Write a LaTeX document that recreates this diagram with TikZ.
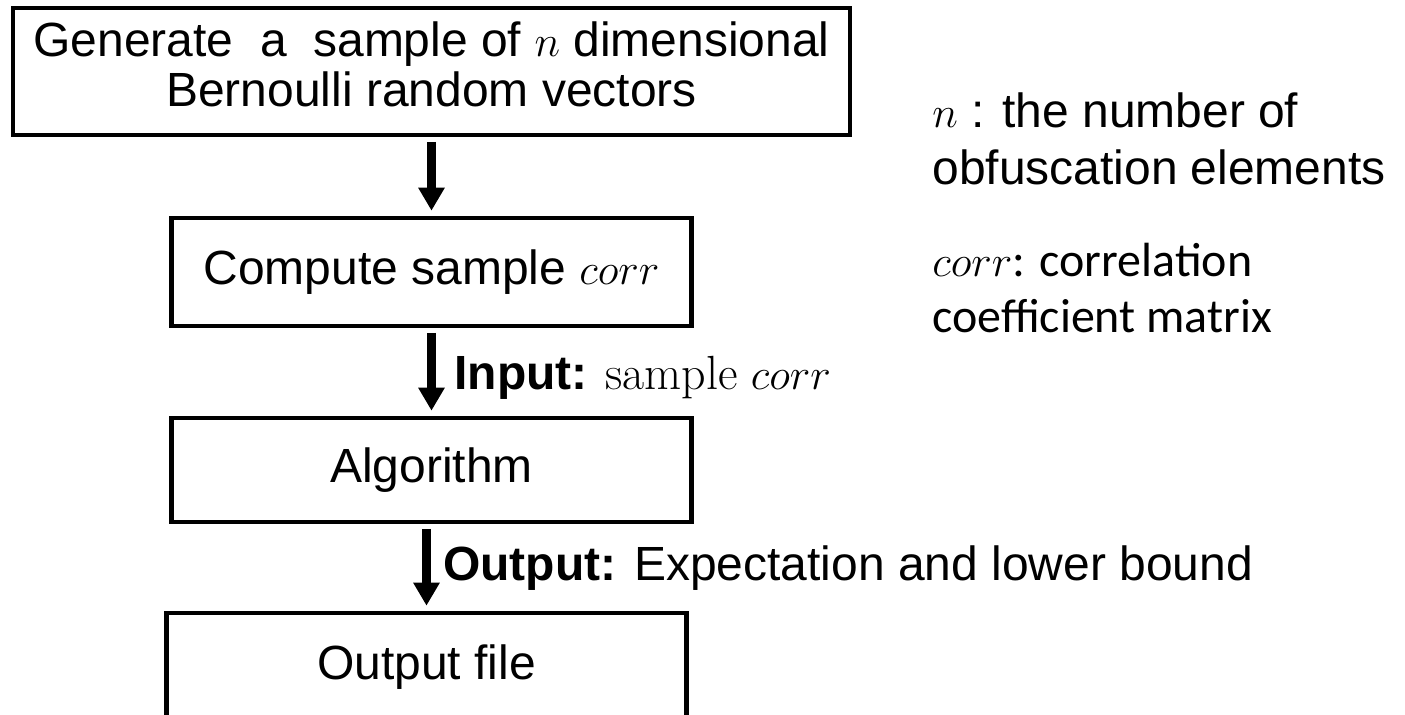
\documentclass[tikz,border=0pt]{standalone}
\usepackage{fontspec}
\setsansfont{Liberation Sans}
\newfontfamily\calibrifont{Carlito}
\usetikzlibrary{arrows.meta}

\begin{document}
\begin{tikzpicture}[-{Triangle[width=5mm,length=4.6mm]}, font=\sffamily\fontsize{27.3}{28.5}\selectfont]
   \useasboundingbox (0,0) rectangle (28.1,14.28);
   \tikzstyle{main}=[rectangle, draw=black, line width=2.3pt, inner sep=0pt, minimum width=10.4cm, minimum height=2.16cm, align=center]
   \tikzstyle{link}=[line width=5pt, shorten <=2.8pt, shorten >=3pt]
   \tikzstyle{label}=[anchor=base west, inner sep=0pt]
   \node[main, minimum width=16.74cm, minimum height=2.54cm, text depth=8pt] (generate) at (8.63,12.85) {Generate\ \ a\ \ sample of $n$ dimensional\\Bernoulli random vectors};
   \node[main] (sample) at (8.63,8.84) {Compute sample $corr$};
   \node[main, minimum height=2.08cm] (algo) at (8.63,4.88) {Algorithm};
   \node[main] (outfile) at (8.53,0.94) {Output file};
   \path (generate) edge[link] (sample);
   \path (sample) edge[link] (algo);
   \path (outfile.north |- algo.south) edge[link] (outfile.north);
   \node[label] (input) at (9.08,6.48) {\textbf{Input:} $\mathrm{sample}\ corr$};
   \node[label] (result) at (8.86,2.68) {\textbf{Output:} Expectation and lower bound};
   % notes on the right
   \node[label, align=left, font=\sffamily\fontsize{27.3}{33}\selectfont] (note1) at (18.64,10.58) {$n$ : the number of\\obfuscation elements};
   \node[label, align=left, font=\calibrifont\fontsize{27.3}{32}\selectfont] (note2) at (18.64,7.62) {$corr$: correlation\\coefficient matrix};
\end{tikzpicture}
\end{document}
